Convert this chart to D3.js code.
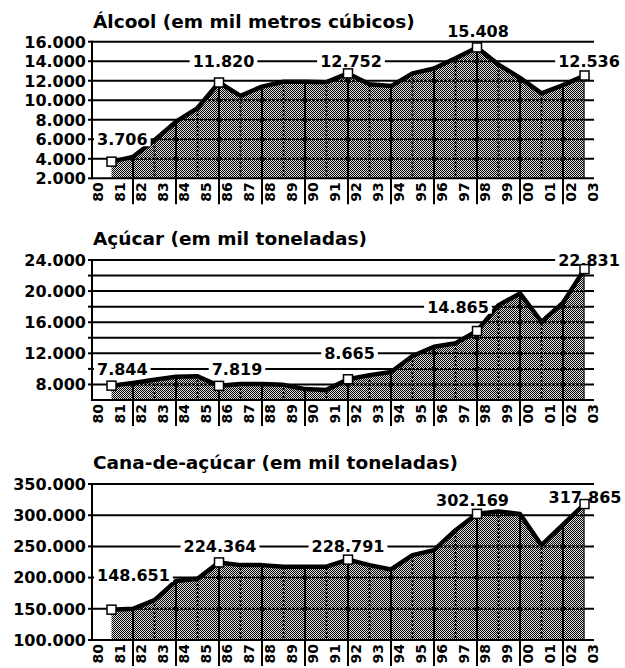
<!DOCTYPE html>
<html><head><meta charset="utf-8">
<script src="https://cdn.jsdelivr.net/npm/d3@7"></script>
<style>body{margin:0;background:#fff}svg{display:block}</style>
</head><body><svg id="c" width="625" height="668"></svg>
<script>
// ---- data ----
const years = ["80","81","82","83","84","85","86","87","88","89","90","91","92","93","94","95","96","97","98","99","00","01","02","03"];
const alcool = [3706, 4200, 5900, 7800, 9200, 11820, 10450, 11400, 11900, 11900, 11850, 12752, 11650, 11450, 12750, 13250, 14300, 15408, 13650, 12300, 10700, 11550, 12536];
const acucar = [7844, 8200, 8600, 9000, 9050, 7819, 8050, 8050, 7950, 7400, 7300, 8665, 9200, 9600, 11650, 12850, 13300, 14865, 18200, 19700, 16050, 18500, 22831];
const cana = [148651, 150000, 164000, 194500, 198000, 224364, 220000, 220000, 217500, 217500, 217500, 228791, 220000, 213000, 236000, 244000, 276000, 302169, 306000, 302000, 252000, 285000, 317865];
const alcoolTicks = [2000, 4000, 6000, 8000, 10000, 12000, 14000, 16000];
const acucarGrid = [8000, 10000, 12000, 14000, 16000, 18000, 20000, 22000, 24000];
const acucarTicks = [8000, 12000, 16000, 20000, 24000];
const canaTicks = [100000, 150000, 200000, 250000, 300000, 350000];
const highlighted = [0, 5, 11, 17, 22];
const titles = ["Álcool (em mil metros cúbicos)", "Açúcar (em mil toneladas)", "Cana-de-açúcar (em mil toneladas)"];

// ---- layout ----
const fmt = d3.formatLocale({decimal: ",", thousands: ".", grouping: [3], currency: ["", ""]}).format(",d");
const FONT = "'DejaVu Sans', sans-serif";
const axisX = 92, rightX = 594;
const x = d3.scaleLinear().domain([0, 22]).range([111.5, 584.5]);

const panels = [
  {title: titles[0], values: alcool, domain: [2000, 16000], grid: alcoolTicks, ticks: alcoolTicks,
   top: 41.7, bottom: 178.3, titleY: 28,
   notes: [{left: 97, v: 6000}, {dx: 4.5, v: 14000}, {dx: 3, v: 14000}, {dx: 1, v: 17130}, {dx: 4.5, v: 14000}]},
  {title: titles[1], values: acucar, domain: [6000, 24000], grid: acucarGrid, ticks: acucarTicks,
   top: 260, bottom: 400, titleY: 245,
   notes: [{left: 97, v: 10000}, {dx: 18, v: 10000}, {dx: 1.5, v: 12000}, {dx: -19, v: 18000}, {dx: 4.5, v: 24000}]},
  {title: titles[2], values: cana, domain: [100000, 350000], grid: canaTicks, ticks: canaTicks,
   top: 484, bottom: 640, titleY: 469,
   notes: [{left: 97, v: 204000}, {dx: 1, v: 250000}, {dx: 0, v: 250000}, {dx: -4.5, v: 324400}, {dx: 0.5, v: 328500}]}
];

const svg = d3.select("#c");
svg.append("rect").attr("width", 625).attr("height", 668).attr("fill", "#fff");
const defs = svg.append("defs");
const pat = defs.append("pattern").attr("id", "dither").attr("patternUnits", "userSpaceOnUse")
  .attr("width", 2).attr("height", 2);
pat.append("rect").attr("width", 2).attr("height", 2).attr("fill", "#dcdcdc");
pat.append("rect").attr("x", 0).attr("y", 0).attr("width", 1).attr("height", 1).attr("fill", "#000");
pat.append("rect").attr("x", 1).attr("y", 1).attr("width", 1).attr("height", 1).attr("fill", "#000");

panels.forEach((p, pi) => {
  const y = d3.scaleLinear().domain(p.domain).range([p.bottom, p.top]);
  const g = svg.append("g");
  const vals = p.values;

  g.append("text").attr("x", 93).attr("y", p.titleY).text(p.title)
    .attr("font-family", FONT).attr("font-weight", "bold").attr("font-size", 18.5).attr("fill", "#000");

  p.grid.filter(v => v !== p.domain[0]).forEach(v => {
    g.append("line").attr("x1", axisX).attr("x2", rightX).attr("y1", y(v)).attr("y2", y(v))
      .attr("stroke", "#000").attr("stroke-width", 2);
  });

  const area = d3.area().x((d, i) => x(i)).y0(p.bottom).y1(d => y(d));
  const areaPath = area(vals);
  defs.append("clipPath").attr("id", "clip" + pi).append("path").attr("d", areaPath);
  g.append("path").attr("d", areaPath).attr("fill", "url(#dither)");

  const inner = g.append("g").attr("clip-path", `url(#clip${pi})`);
  p.grid.filter(v => v !== p.domain[0]).forEach(v => {
    inner.append("line").attr("x1", axisX).attr("x2", rightX).attr("y1", y(v)).attr("y2", y(v))
      .attr("stroke", "#000").attr("stroke-width", 2).attr("stroke-dasharray", "3,1");
  });
  vals.forEach((d, i) => {
    if (i === 0) return;
    const odd = i % 2 === 1;
    inner.append("line").attr("x1", x(i)).attr("x2", x(i)).attr("y1", p.top - 20).attr("y2", p.bottom)
      .attr("stroke", "#000").attr("stroke-width", 2)
      .attr("stroke-dasharray", odd || i === vals.length - 1 ? null : "2,2");
    if (odd) {
      p.grid.filter(v => v !== p.domain[0]).forEach(v => {
        inner.append("circle").attr("cx", x(i)).attr("cy", y(v)).attr("r", 2.5).attr("fill", "#000");
      });
    }
  });

  g.append("path").attr("d", d3.line().x((d, i) => x(i)).y(d => y(d))(vals))
    .attr("fill", "none").attr("stroke", "#000").attr("stroke-width", 4.5)
    .attr("stroke-linejoin", "round").attr("stroke-linecap", "round");

  highlighted.forEach((idx, k) => {
    const n = p.notes[k];
    const t = g.append("text").text(fmt(vals[idx]))
      .attr("font-family", FONT).attr("font-weight", "bold").attr("font-size", 16).attr("fill", "#000")
      .attr("y", y(n.v)).attr("dy", "0.365em");
    if (n.left !== undefined) t.attr("x", n.left).attr("text-anchor", "start");
    else t.attr("x", x(idx) + n.dx).attr("text-anchor", "middle");
    const bb = t.node().getBBox();
    g.insert("rect", () => t.node())
      .attr("x", bb.x - 3).attr("y", y(n.v) - 7).attr("width", bb.width + 6).attr("height", 14)
      .attr("fill", "#fff");
  });

  highlighted.forEach(idx => {
    g.append("rect").attr("x", x(idx) - 4.5).attr("y", y(vals[idx]) - 4.5).attr("width", 9).attr("height", 9)
      .attr("fill", "#fff").attr("stroke", "#000").attr("stroke-width", 1.5);
  });

  g.append("line").attr("x1", axisX).attr("x2", axisX).attr("y1", p.top - 1).attr("y2", p.bottom + 1)
    .attr("stroke", "#000").attr("stroke-width", 2);
  p.grid.forEach(v => {
    g.append("line").attr("x1", axisX - 4).attr("x2", axisX).attr("y1", y(v)).attr("y2", y(v))
      .attr("stroke", "#000").attr("stroke-width", 2);
  });
  p.ticks.forEach(v => {
    g.append("text").attr("x", 86).attr("y", y(v)).attr("dy", "0.365em").attr("text-anchor", "end")
      .text(fmt(v)).attr("font-family", FONT).attr("font-weight", "bold").attr("font-size", 16).attr("fill", "#000");
  });

  g.append("line").attr("x1", axisX).attr("x2", rightX).attr("y1", p.bottom).attr("y2", p.bottom)
    .attr("stroke", "#000").attr("stroke-width", 2);
  vals.forEach((d, i) => {
    if (i % 2 === 1) {
      g.append("line").attr("x1", x(i)).attr("x2", x(i)).attr("y1", p.bottom).attr("y2", p.bottom + 26)
        .attr("stroke", "#000").attr("stroke-width", 2);
    }
  });
  years.forEach((yr, k) => {
    g.append("g").attr("transform", `translate(${x(k) - 13.5},${p.bottom + 4})`)
      .append("text").text(yr)
      .attr("transform", "rotate(-90)")
      .attr("text-anchor", "end").attr("dy", "0.365em")
      .attr("font-family", FONT).attr("font-weight", "bold").attr("font-size", 14).attr("fill", "#000");
  });
});
</script></body></html>
